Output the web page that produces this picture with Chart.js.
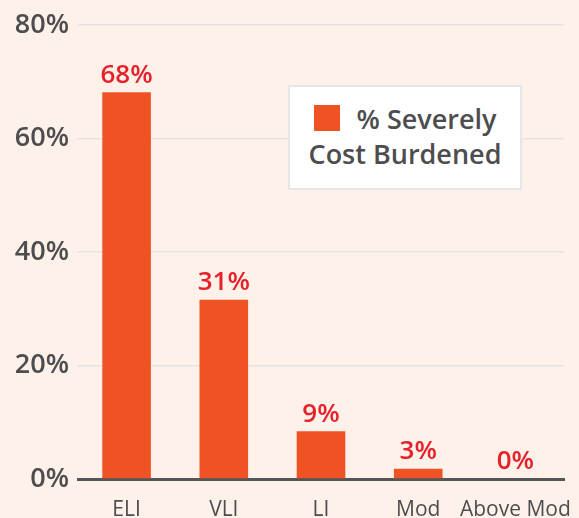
<!DOCTYPE html>
<html>
<head>
<meta charset="utf-8">
<script src="https://cdn.jsdelivr.net/npm/chart.js@4"></script>
<style>
  html, body { margin: 0; padding: 0; background: #FDF1EA; }
  #wrap { position: relative; width: 579px; height: 518px; }
  #legend {
    position: absolute; left: 288px; top: 85px; width: 234px; height: 105px;
    background: #fff; border: 2px solid #E4E7EA; box-sizing: border-box;
    font-family: "Open Sans", sans-serif; font-size: 27px; font-weight: 600;
    color: #4D4D4F; text-align: center; line-height: 35px; padding-top: 14px;
  }
  #legend .sw { display: inline-block; width: 26px; height: 26px; vertical-align: -2px; margin-right: 17px; }
</style>
</head>
<body>
<div id="wrap">
  <canvas id="chart" width="579" height="518"></canvas>
  <div id="legend"></div>
</div>
<script>
// カテゴリと値
const categories = ['ELI', 'VLI', 'LI', 'Mod', 'Above Mod'];
const severelyBurdened = [68.2, 31.6, 8.4, 1.8, 0];
const valueLabels = ['68%', '31%', '9%', '3%', '0%'];
const seriesName = '% Severely Cost Burdened';
const yTicks = [0, 20, 40, 60, 80];

const BAR_COLOR = '#F05323';
const TEXT_COLOR = '#4D4D4F';
const FONT = '"Open Sans", sans-serif';

// 棒の上に値ラベルを描く
const valueLabelPlugin = {
    id: 'valueLabels',
    afterDatasetsDraw(chart) {
        const ctx = chart.ctx;
        const meta = chart.getDatasetMeta(0);
        ctx.save();
        ctx.fillStyle = '#E8202A';
        ctx.font = '600 26px ' + FONT;
        ctx.textAlign = 'center';
        ctx.textBaseline = 'bottom';
        meta.data.forEach((bar, i) => {
            ctx.fillText(valueLabels[i], bar.x, bar.y - 4);
        });
        ctx.restore();
    }
};

const ctx = document.getElementById('chart').getContext('2d');
new Chart(ctx, {
    type: 'bar',
    data: {
        labels: categories,
        datasets: [{
            label: seriesName,
            data: severelyBurdened,
            backgroundColor: BAR_COLOR,
            categoryPercentage: 1,
            barPercentage: 0.5
        }]
    },
    options: {
        responsive: false,
        animation: false,
        layout: { padding: { top: 24, right: 15, left: 9, bottom: 0 } },
        plugins: {
            legend: { display: false },
            tooltip: { enabled: false }
        },
        scales: {
            x: {
                grid: { display: false, drawTicks: false },
                border: { display: true, color: '#555558', width: 3 },
                ticks: {
                    color: TEXT_COLOR, font: { family: FONT, size: 21 },
                    padding: 18, maxRotation: 0, autoSkip: false
                },
                afterFit(scale) {
                    scale.height = 39;
                    scale.paddingLeft = 0;
                    scale.paddingRight = 0;
                }
            },
            y: {
                min: 0,
                max: 80,
                afterBuildTicks(axis) { axis.ticks = yTicks.map(v => ({ value: v })); },
                grid: { color: '#E6E3E1', lineWidth: 1.5, drawTicks: false },
                border: { display: false },
                ticks: {
                    color: TEXT_COLOR,
                    font: { family: FONT, size: 27, weight: '600' },
                    padding: 9,
                    callback: v => v + '%'
                },
                afterFit(scale) { scale.width = 69; }
            }
        }
    },
    plugins: [valueLabelPlugin]
});

// 凡例
document.getElementById('legend').innerHTML =
    '<span class="sw" style="background:' + BAR_COLOR + '"></span>% Severely<br>Cost Burdened';
</script>
</body>
</html>
